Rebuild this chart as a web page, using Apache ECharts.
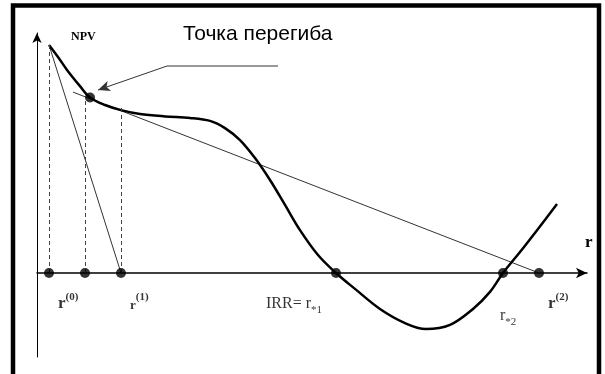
<!DOCTYPE html>
<html>
<head>
<meta charset="utf-8">
<script src="https://cdn.jsdelivr.net/npm/echarts@6/dist/echarts.min.js"></script>
<style>
  html, body { margin: 0; padding: 0; background: #fff; }
  #chart { width: 605px; height: 374px; }
</style>
</head>
<body>
<div id="chart"></div>
<script>
// NPV profile of a project with non-standard cash flows: rate r on x, NPV on y
const npvCurve = [
  [1.2, 76.0], [2.1, 72.0], [3.0, 67.7], [4.3, 62.3], [5.3, 58.5],
  [6.8, 56.0], [8.4, 54.3], [10.3, 53.0], [12.8, 52.2], [15.3, 51.7],
  [17.3, 50.7], [18.8, 48.3], [20.3, 44.3], [21.8, 38.3], [23.3, 31.0],
  [24.8, 22.7], [26.3, 14.3], [28.1, 6.0], [29.9, 0.0], [31.8, -5.3],
  [34.3, -12.0], [36.8, -16.7], [38.9, -18.7], [41.3, -17.3], [43.6, -12.0],
  [45.3, -6.3], [46.6, 0.0], [48.3, 7.0], [50.1, 14.7], [52.0, 23.0]
];
// rates marked on the r axis
const axisRates = [1.2, 4.8, 8.4, 29.9, 46.6, 50.2];
// label text for each marked rate: main part and its index
const rateMain = ['r', '', 'r', 'IRR= r', 'r', 'r'];
const rateIndex = ['(0)', '', '(1)', '*1', '*2', '(2)'];
const inflectionPoint = [5.3, 58.5];
const tangentLine = [[3.6, 60.3], [50.2, 0]];
const chordLine = [[1.2, 76.0], [8.4, 0]];
const dropLines = [[1.2, 76.0], [4.8, 57.7], [8.4, 55.3]];
const calloutPath = [[24.1, 69], [13.0, 69], [6.1, 61]];
const calloutText = 'Точка перегиба';
const yAxisTitle = 'NPV';
const xAxisTitle = 'r';

const serif = '"Liberation Serif", "DejaVu Serif", serif';
const sans = '"Liberation Sans", Arial, sans-serif';

// label layout per marked rate: offset from the dot centre and style of the index
const labelLayout = [
  { dx: 9, dy: 19, align: 'left', kind: 'sup' },
  null,
  { dx: 9, dy: 19, align: 'left', kind: 'sup', small: true },
  { dx: -14, dy: 19, align: 'right', kind: 'sub' },
  { dx: -3, dy: 31, align: 'left', kind: 'sub' },
  { dx: 9, dy: 19, align: 'left', kind: 'sup' }
];

const richStyles = {
  rb: { fontFamily: serif, fontWeight: 'bold', fontSize: 17, color: '#000', verticalAlign: 'bottom', lineHeight: 20 },
  rs: { fontFamily: serif, fontWeight: 'bold', fontSize: 13, color: '#000', verticalAlign: 'bottom', lineHeight: 20 },
  sup: { fontFamily: serif, fontWeight: 'bold', fontSize: 11, color: '#000', verticalAlign: 'top', lineHeight: 20 },
  n: { fontFamily: serif, fontSize: 16, color: '#000', verticalAlign: 'bottom', lineHeight: 20 },
  sub: { fontFamily: serif, fontSize: 11, color: '#000', verticalAlign: 'bottom', lineHeight: 14, padding: [0, 0, -4, 0] }
};

const rateDots = axisRates.map((r, i) => {
  const lay = labelLayout[i];
  const item = { value: [r, 0] };
  if (lay) {
    let txt;
    if (lay.kind === 'sup') {
      txt = '{' + (lay.small ? 'rs' : 'rb') + '|' + rateMain[i] + '}{sup|' + rateIndex[i] + '}';
    } else {
      txt = '{n|' + rateMain[i] + '}{sub|' + rateIndex[i] + '}';
    }
    item.label = {
      show: true,
      formatter: txt,
      position: [5 + lay.dx, 5 + lay.dy],
      align: lay.align,
      verticalAlign: 'top',
      rich: richStyles
    };
  }
  return item;
});

const chart = echarts.init(document.getElementById('chart'), null, { renderer: 'canvas' });

chart.setOption({
  animation: false,
  backgroundColor: '#fff',
  grid: { left: 37, right: 18, top: 33, bottom: 17, containLabel: false },
  xAxis: {
    type: 'value', min: 0, max: 55,
    axisLine: { onZero: true, lineStyle: { color: '#000', width: 1.5 }, symbol: ['none', 'arrow'], symbolSize: [8, 11] },
    axisTick: { show: false }, axisLabel: { show: false }, splitLine: { show: false }
  },
  yAxis: {
    type: 'value', min: -28, max: 80,
    axisLine: { onZero: true, lineStyle: { color: '#000', width: 1 }, symbol: ['none', 'arrow'], symbolSize: [7, 10] },
    axisTick: { show: false }, axisLabel: { show: false }, splitLine: { show: false }
  },
  graphic: [
    { type: 'rect', shape: { x: 13, y: 5.5, width: 586, height: 400 }, style: { fill: 'none', stroke: '#000', lineWidth: 4.5 }, z: 100 },
    { type: 'text', left: 183, top: 24, style: { text: calloutText, font: '21px ' + sans, fill: '#000' } },
    { type: 'text', left: 71, top: 31, style: { text: yAxisTitle, font: 'bold 12px ' + serif, fill: '#000' } },
    { type: 'text', left: 585, top: 234, style: { text: xAxisTitle, font: 'bold 17px ' + serif, fill: '#000' } }
  ],
  series: [
    {
      type: 'line', data: chordLine, showSymbol: false, silent: true,
      lineStyle: { color: '#333', width: 1 }, z: 2
    },
    {
      type: 'line', data: tangentLine, showSymbol: false, silent: true,
      lineStyle: { color: '#333', width: 1 }, z: 2
    },
    {
      type: 'line', data: [], silent: true,
      markLine: {
        symbol: 'none', silent: true, label: { show: false },
        lineStyle: { color: '#444', type: [4, 3], width: 1 },
        data: dropLines.map(p => [{ coord: [p[0], 0] }, { coord: [p[0], p[1]] }])
      }
    },
    {
      type: 'line', data: npvCurve, smooth: 0.35, showSymbol: false, silent: true,
      lineStyle: { color: '#000', width: 2.5 }, z: 3
    },
    {
      // callout pointing at the inflection point
      type: 'line', data: calloutPath.slice(0, 2), showSymbol: false, silent: true,
      lineStyle: { color: '#333', width: 1 }, z: 4,
      markLine: {
        silent: true, label: { show: false }, symbolSize: [8, 12],
        lineStyle: { color: '#333', type: 'solid', width: 1 },
        itemStyle: { color: '#333' },
        data: [[
          { coord: calloutPath[1], symbol: 'none' },
          { coord: calloutPath[2], symbol: 'arrow' }
        ]]
      }
    },
    {
      type: 'scatter', data: rateDots, symbolSize: 10, silent: true,
      itemStyle: { color: '#000' }, z: 5
    },
    {
      type: 'scatter', data: [inflectionPoint], symbolSize: 10, silent: true,
      itemStyle: { color: '#000' }, z: 5
    }
  ]
});
</script>
</body>
</html>
